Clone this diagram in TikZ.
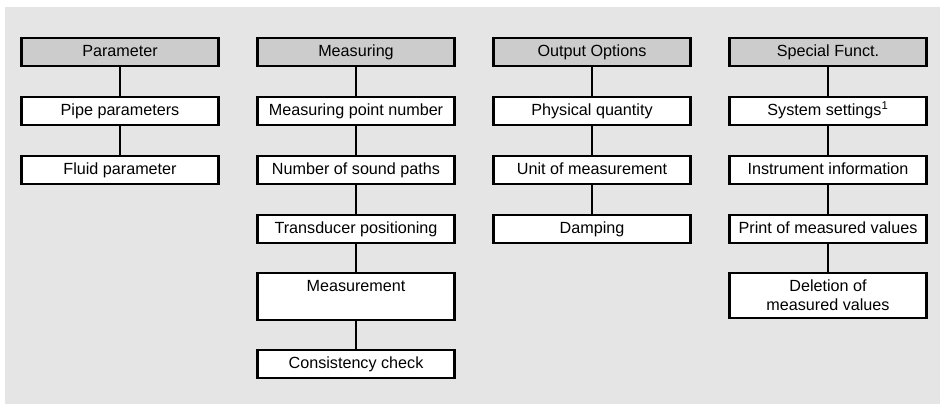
\documentclass[tikz,border=0pt]{standalone}
\usepackage{fontspec}
\usepackage{xcolor}
\usepackage{tikz}
\setmainfont{Liberation Sans}
\definecolor{panelgray}{HTML}{E5E5E5}
\definecolor{headgray}{HTML}{CCCCCC}

\begin{document}
\begin{tikzpicture}[every node/.style={font=\fontsize{11.5pt}{13.6pt}\selectfont}, box/.style={draw, line width=1.6pt, fill=white, anchor=north, minimum width=4.925cm, text height=8.3pt, text depth=2.5pt, inner ysep=4.55pt, align=center}, head/.style={box, fill=headgray}, tallbox/.style={box, text depth=16pt}, twoline/.style={box, text height=, text depth=, inner ysep=5pt}, link/.style={line width=1.6pt}]
    \useasboundingbox (0,0) rectangle (23.5,-10.1);
    \fill[panelgray] (0.125,-0.175) rectangle (23.5,-10.1);
    % Parameter
    \node[head] (par) at (3.0,-0.925) {Parameter};
    \node[box] (pipe) at (3.0,-2.4) {Pipe parameters};
    \node[box] (fluid) at (3.0,-3.875) {Fluid parameter};
    \draw[link] (par) -- (pipe);
    \draw[link] (pipe) -- (fluid);
    % Measuring
    \node[head] (meas) at (8.9,-0.925) {Measuring};
    \node[box] (mpn) at (8.9,-2.4) {Measuring point number};
    \node[box] (nsp) at (8.9,-3.875) {Number of sound paths};
    \node[box] (tpos) at (8.9,-5.35) {Transducer positioning};
    \node[tallbox] (mmt) at (8.9,-6.8) {Measurement};
    \node[box] (cons) at (8.9,-8.725) {Consistency check};
    \draw[link] (meas) -- (mpn);
    \draw[link] (mpn) -- (nsp);
    \draw[link] (nsp) -- (tpos);
    \draw[link] (tpos) -- (mmt);
    \draw[link] (mmt) -- (cons);
    % Output Options
    \node[head] (out) at (14.8,-0.925) {Output Options};
    \node[box] (phys) at (14.8,-2.4) {Physical quantity};
    \node[box] (unit) at (14.8,-3.875) {Unit of measurement};
    \node[box] (damp) at (14.8,-5.35) {Damping};
    \draw[link] (out) -- (phys);
    \draw[link] (phys) -- (unit);
    \draw[link] (unit) -- (damp);
    % Special Funct.
    \node[head] (spec) at (20.7,-0.925) {Special Funct.};
    \node[box] (sys) at (20.7,-2.4) {System settings\textsuperscript{1}};
    \node[box] (inst) at (20.7,-3.875) {Instrument information};
    \node[box] (prnt) at (20.7,-5.35) {Print of measured values};
    \node[twoline] (del) at (20.7,-6.8) {Deletion of\\measured values};
    \draw[link] (spec) -- (sys);
    \draw[link] (sys) -- (inst);
    \draw[link] (inst) -- (prnt);
    \draw[link] (prnt) -- (del);
  \end{tikzpicture}
\end{document}
